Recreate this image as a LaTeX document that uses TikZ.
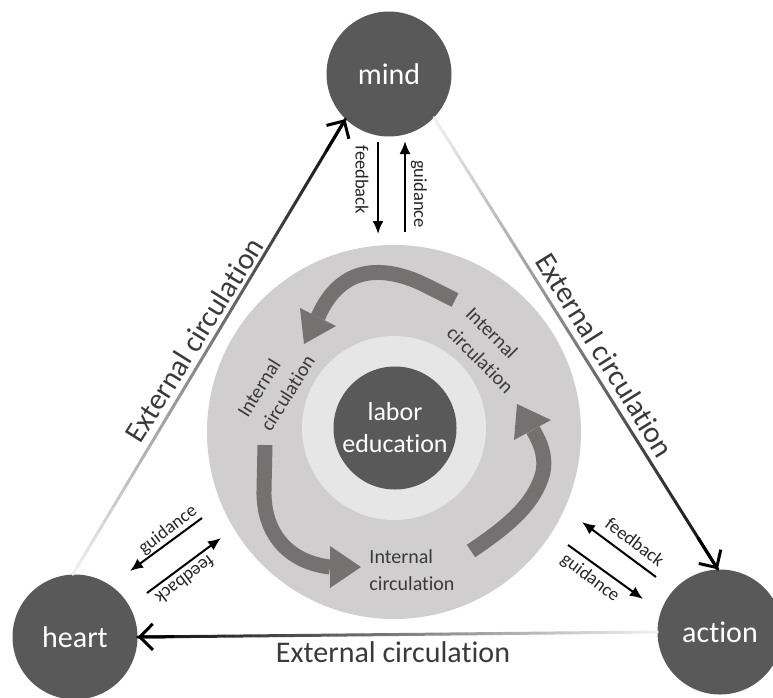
\documentclass[tikz,border=0pt]{standalone}
\usepackage{fontspec}
\setmainfont{Carlito}[Ligatures={NoCommon}]
\usetikzlibrary{arrows.meta,calc}
\definecolor{darkc}{HTML}{595959}
\definecolor{bigc}{HTML}{D0CECE}
\definecolor{lightc}{HTML}{E7E6E6}
\definecolor{arrc}{HTML}{767171}
\definecolor{txtc}{HTML}{3A3A3A}
\begin{document}
\begin{tikzpicture}[x=1pt,y=-1pt,
  dcircle/.style={circle,fill=darkc,minimum size=125pt,inner sep=0pt,text=white,font=\fontsize{30}{30}\selectfont},
  extlabel/.style={text=txtc,font=\fontsize{30}{30}\selectfont,inner sep=0pt},
  intlabel/.style={text=txtc,font=\fontsize{20}{27}\selectfont,align=left,inner sep=0pt},
  smalllabel/.style={text=black!85,font=\fontsize{18.5}{18.5}\selectfont,inner sep=0pt},
  sarrow/.style={line width=2pt,black,-{Latex[length=13pt,width=11pt]}},
  inband/.style={line width=15pt,arrc,line cap=butt},
  inhead/.style={fill=arrc},
  extseg/.style={line width=3pt,line cap=round},
  exthead/.style={line width=3pt,black,-{Straight Barb[length=13pt,width=26pt]}}]
\useasboundingbox (0,0) rectangle (773,697);

% central circles
\node[circle,fill=bigc,minimum size=374pt,inner sep=0pt] (outer) at (394,432) {};
\node[circle,fill=lightc,minimum size=184pt,inner sep=0pt] (inner) at (394,428) {};
\node[circle,fill=darkc,minimum size=123pt,inner sep=0pt,text=white,align=center,
      font=\fontsize{26}{32}\selectfont] (labor) at (395,428) {labor\\education};

% internal circulation arrows
\draw[inband] (455,300) -- (427,286) .. controls (400,272) and (368,266) .. (345,282)
   .. controls (333,290) and (324,303) .. (318,317);
\fill[inhead] (300,308) -- (336,326) -- (304,344) -- cycle;
\draw[inband] (265,445) -- (264,490) .. controls (263,532) and (287,562) .. (330,567);
\fill[inhead] (330,546) -- (330,588) -- (361,567) -- cycle;
\draw[inband] (471,551) .. controls (505,528) and (535,505) .. (543,472)
   .. controls (546,455) and (540,442) .. (533,430);
\fill[inhead] (514,440) -- (551,420) -- (517,404) -- cycle;

% internal labels
\node[intlabel,rotate=-45] (il1) at (490,350) {Internal\\circulation};
\node[intlabel,rotate=58] (il2) at (276,386) {Internal\\circulation};
\node[intlabel] (il3) at (412,570) {Internal\\circulation};

% outer nodes
\node[dcircle] (mind) at (389,74) {mind};
\node[dcircle] (heart) at (75,637) {heart};
\node[dcircle] (action) at (720,632) {action};

% external circulation (gradient lines)
\foreach \s/\e in {heart.92/mind.226, mind.316/action.92, action.180/heart.0}{
  \foreach \i in {0,...,59}{
    \pgfmathsetmacro\ta{\i/60}
    \pgfmathsetmacro\tb{(\i+1)/60}
    \pgfmathsetmacro\pc{6+90*\i/59}
    \draw[extseg,color=black!\pc!white] ($(\s)!\ta!(\e)$) -- ($(\s)!\tb!(\e)$);
  }
  \draw[exthead] ($(\s)!0.93!(\e)$) -- (\e);
}
\node[extlabel,rotate=58] (el1) at (194,340) {External circulation};
\node[extlabel,rotate=-58] (el2) at (605,355) {External circulation};
\node[extlabel] (el3) at (393,652) {External circulation};

% feedback / guidance arrows
\coordinate (mf1) at (378,142); \coordinate (mf2) at (378,234);
\coordinate (mg1) at (405,232); \coordinate (mg2) at (405,141);
\draw[sarrow] (mf1) -- (mf2);
\draw[sarrow] (mg1) -- (mg2);
\node[smalllabel,rotate=-90] (mfl) at (362,180) {feedback};
\node[smalllabel,rotate=-90] (mgl) at (419,194) {guidance};

\coordinate (hg1) at (202,518); \coordinate (hg2) at (130,571);
\coordinate (hf1) at (147,593); \coordinate (hf2) at (221,538);
\draw[sarrow] (hg1) -- (hg2);
\draw[sarrow] (hf1) -- (hf2);
\node[smalllabel,rotate=37] (hgl) at (168,530) {guidance};
\node[smalllabel,rotate=217] (hfl) at (185,580) {feedback};

\coordinate (af1) at (656,577); \coordinate (af2) at (582,522);
\coordinate (ag1) at (568,545); \coordinate (ag2) at (643,599);
\draw[sarrow] (af1) -- (af2);
\draw[sarrow] (ag1) -- (ag2);
\node[smalllabel,rotate=-37] (afl) at (635,542) {feedback};
\node[smalllabel,rotate=-37] (agl) at (590,578) {guidance};
\end{tikzpicture}
\end{document}
